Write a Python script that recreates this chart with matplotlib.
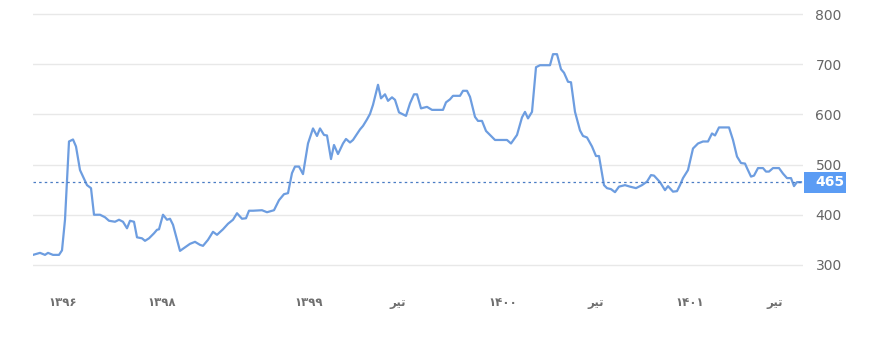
import numpy as np
import matplotlib
matplotlib.use("Agg")
import matplotlib.pyplot as plt
import matplotlib.transforms as mtransforms
from matplotlib.patches import Rectangle

# position along the time axis (arbitrary units) and value
pos = [0, 7, 12, 15, 20, 26, 29, 32, 36, 40, 43, 47, 50, 54, 58, 61, 67, 72, 76,
       82, 86, 90, 94, 97, 101, 104, 109, 112, 116, 121, 124, 126, 130, 134, 137,
       140, 147, 152, 157, 162, 167, 170, 175, 180, 184, 190, 195, 200, 204, 209,
       213, 216, 220, 229, 234, 241, 246, 251, 255, 259, 262, 266, 270, 275, 280,
       284, 287, 291, 294, 298, 301, 305, 310, 313, 317, 320, 327, 330, 334, 337,
       340, 345, 348, 352, 355, 359, 362, 366, 373, 377, 381, 384, 388, 394, 399,
       410, 413, 417, 420, 427, 430, 434, 437, 442, 445, 449, 453, 456, 462, 474,
       478, 484, 489, 492, 495, 499, 503, 507, 517, 520, 524, 528, 531, 535, 538,
       542, 547, 550, 554, 559, 563, 566, 571, 574, 578, 582, 586, 592, 597, 603,
       609, 614, 618, 621, 627, 632, 635, 640, 644, 647, 650, 655, 660, 665, 670,
       675, 679, 682, 686, 696, 700, 704, 708, 712, 714, 718, 721, 725, 730, 733,
       736, 740, 746, 750, 754, 758, 761, 764, 768]
price = [320, 324, 320, 324, 320, 320, 329, 390, 546, 550, 536, 489, 476, 459,
         453, 400, 400, 395, 388, 386, 390, 386, 373, 388, 386, 355, 353, 348, 353,
         363, 370, 371, 400, 390, 392, 380, 328, 335, 342, 346, 340, 338, 350, 366,
         360, 371, 382, 390, 403, 392, 393, 408, 408, 409, 405, 409, 429, 441, 443,
         483, 496, 496, 481, 542, 572, 557, 572, 559, 558, 511, 539, 521, 542, 551,
         544, 549, 570, 577, 590, 601, 619, 659, 632, 640, 627, 634, 629, 604, 597,
         622, 640, 640, 612, 615, 609, 609, 624, 630, 637, 637, 647, 647, 635, 595,
         587, 587, 567, 561, 549, 549, 542, 559, 594, 605, 592, 605, 694, 698, 698,
         720, 720, 690, 683, 665, 664, 605, 568, 557, 554, 536, 517, 517, 459, 453,
         451, 445, 456, 459, 456, 453, 459, 466, 479, 478, 465, 449, 457, 446, 447,
         459, 473, 489, 532, 542, 546, 546, 562, 558, 574, 574, 549, 516, 503, 502,
         493, 476, 478, 493, 493, 486, 486, 493, 493, 482, 473, 473, 457, 465, 465]

last_price = 465
tick_pos = [30, 129, 276, 365, 470, 563, 657, 742]
tick_labels = ["۱۳۹۶", "۱۳۹۸", "۱۳۹۹", "\ufeae\ufbff\ufe97",
               "۱۴۰۰", "\ufeae\ufbff\ufe97", "۱۴۰۱", "\ufeae\ufbff\ufe97"]
y_ticks = [300, 400, 500, 600, 700, 800]

line_color = "#6d9de0"

fig = plt.figure(figsize=(8.78, 3.55), dpi=100)
ax = fig.add_axes([33 / 878, 65 / 355, 770 / 878, 286 / 355])

ax.plot(pos, price, color=line_color, lw=1.6, solid_joinstyle="round")
ax.axhline(last_price, color="#4a7cc4", lw=0.9, ls=(0, (2, 2.5)))

ax.set_xlim(0, 770)
ax.set_ylim(250, 820)

ax.set_yticks(y_ticks)
ax.yaxis.tick_right()
ax.grid(axis="y", color="#e8e8e8", lw=1)
ax.set_axisbelow(True)
ax.tick_params(axis="y", length=0, pad=9, labelsize=10, labelcolor="#666666")

ax.set_xticks(tick_pos)
ax.set_xticklabels(tick_labels, fontweight="bold")
ax.tick_params(axis="x", length=0, pad=4, labelsize=8.5, labelcolor="#707070")

for s in ax.spines.values():
    s.set_visible(False)

# last price tag on the right axis
trans = mtransforms.blended_transform_factory(ax.transAxes, ax.transData)
ax.add_patch(Rectangle((1.0 + 1 / 770, last_price - 21), 42 / 770, 42,
                       transform=trans, fc="#5b9cf4", ec="none", clip_on=False))
ax.text(1.0 + 12 / 770, last_price, "465", transform=trans, ha="left", va="center",
        color="white", fontsize=10, fontweight="bold")

fig.savefig("out.png", dpi=100)
